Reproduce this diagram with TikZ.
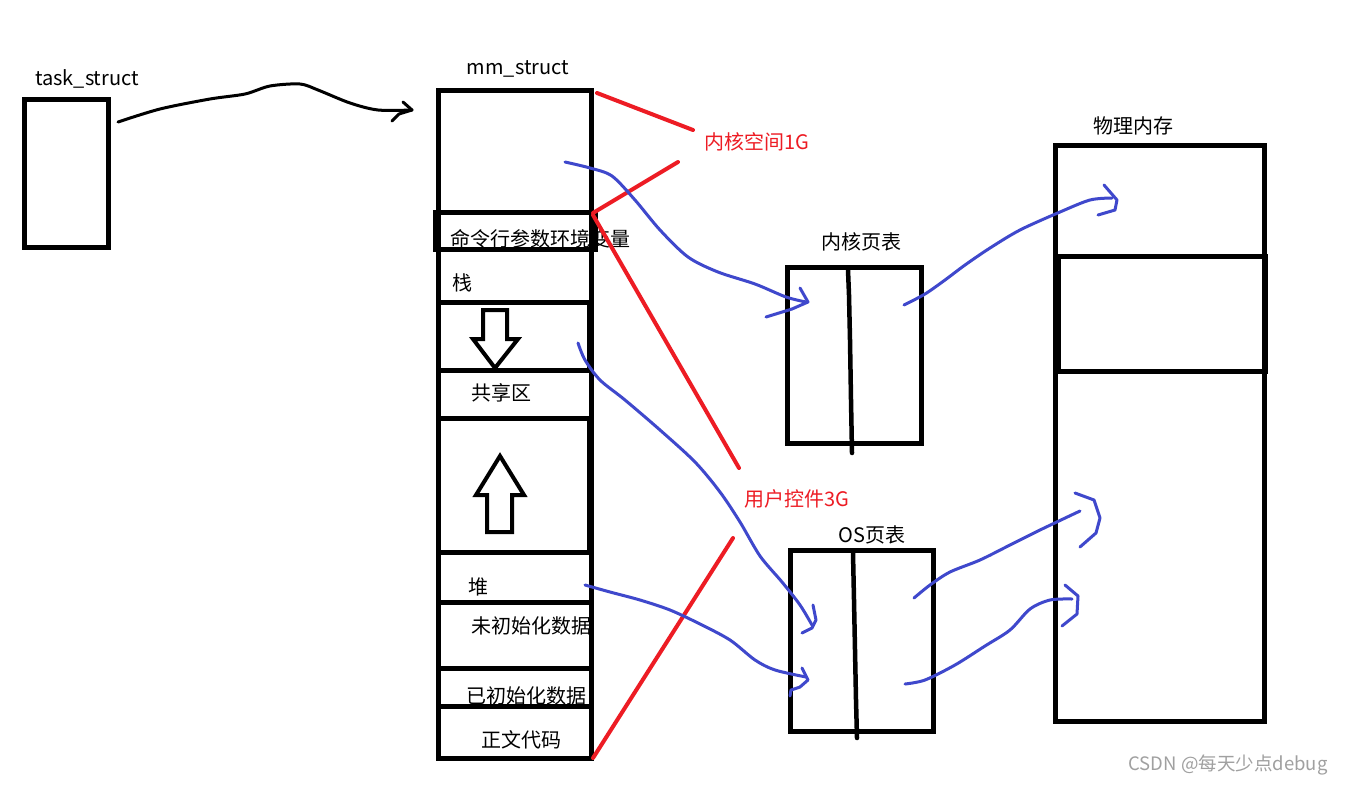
\documentclass[tikz,border=0pt]{standalone}
\usepackage{fontspec}
\setmainfont{Noto Sans CJK SC}
\definecolor{pred}{HTML}{ED1C24}
\definecolor{pblue}{HTML}{3F48CC}
\definecolor{wmgray}{HTML}{A0A0A0}
\begin{document}
\begin{tikzpicture}[x=1pt,y=-1pt,
  box/.style={draw,line width=5pt,inner sep=0pt,outer sep=0pt,rectangle,anchor=north west},
  lbl/.style={inner sep=0pt,font=\fontsize{20}{22}\selectfont},
  redlbl/.style={lbl,text=pred},
  redline/.style={draw=pred,line width=4pt,line cap=round},
  blueline/.style={draw=pblue,line width=3pt,line cap=round,line join=round},
  blackline/.style={draw=black,line width=3pt,line cap=round,line join=round},
  fatarrow/.style={draw=black,line width=4pt,line join=miter}]
\useasboundingbox (0,0) rectangle (1346,785);
\fill[white] (0,0) rectangle (1346,785);

% task_struct
\node[box,minimum width=84pt,minimum height=148pt] (task) at (24,99) {};
\node[lbl] (tasklbl) at (87,79) {task\_struct};

% mm_struct column labels (drawn first, box lines go over them)
\node[lbl] (mmlbl) at (518,69) {mm\_struct};
\node[lbl] (cmdlbl) at (540,239) {命令行参数环境变量};
\node[lbl] (stacklbl) at (462,283) {栈};
\node[lbl] (sharedlbl) at (501,393) {共享区};
\node[lbl] (heaplbl) at (478,587) {堆};
\node[lbl] (bsslbl) at (531,626) {未初始化数据};
\node[lbl] (datalbl) at (526,696) {已初始化数据};
\node[lbl] (codelbl) at (521,740) {正文代码};

% mm_struct column
\node[box,minimum width=153pt,minimum height=668pt] (mm) at (438,90) {};
\node[box,minimum width=160pt,minimum height=37pt] (cmd) at (435,212) {};
\node[box,minimum width=153pt,minimum height=53pt] (stack) at (438,249) {};
\node[box,minimum width=151pt,minimum height=68pt] (gap1) at (438,302) {};
\node[box,minimum width=153pt,minimum height=48pt] (shared) at (438,370) {};
\node[box,minimum width=151pt,minimum height=134pt] (gap2) at (438,418) {};
\node[box,minimum width=153pt,minimum height=50pt] (heap) at (438,552) {};
\node[box,minimum width=153pt,minimum height=66pt] (bss) at (438,602) {};
\node[box,minimum width=153pt,minimum height=38pt] (data) at (438,668) {};
\node[box,minimum width=153pt,minimum height=52pt] (code) at (438,706) {};

% fat arrows
\draw[fatarrow] (483,310) -- (507,310) -- (507,339) -- (518,339) -- (495,368) -- (473,339) -- (483,339) -- cycle;
\draw[fatarrow] (500,456) -- (524,495) -- (512,495) -- (512,532) -- (487,532) -- (487,495) -- (476,495) -- cycle;

% red labels and lines
\node[redlbl] (kspace) at (757,142) {内核空间1G};
\node[redlbl] (uspace) at (797,499) {用户控件3G};
\coordinate (r1a) at (597,93);  \coordinate (r1b) at (693,130);
\coordinate (r2a) at (593,213); \coordinate (r2b) at (678,162);
\coordinate (r3a) at (593,215); \coordinate (r3b) at (739,468);
\coordinate (r4a) at (733,538); \coordinate (r4b) at (593,758);
\draw[redline] (r1a) -- (r1b);
\draw[redline] (r2a) -- (r2b);
\draw[redline] (r3a) -- (r3b);
\draw[redline] (r4a) -- (r4b);

% kernel page table
\node[box,minimum width=134pt,minimum height=176pt] (kpt) at (787,267) {};
\node[lbl] (kptlbl) at (861,242) {内核页表};
\draw[blackline,line width=4.5pt] (848,270) -- (849,295) -- (850,340) -- (851,400) -- (852,453);

% OS page table
\node[box,minimum width=143pt,minimum height=181pt] (ospt) at (790,550) {};
\node[lbl] (osptlbl) at (872,535) {OS页表};
\draw[blackline,line width=4.5pt] (853,553) -- (854,600) -- (855,650) -- (856,700) -- (857,738);

% physical memory
\node[box,minimum width=209pt,minimum height=576pt] (phys) at (1055,145) {};
\node[box,minimum width=207pt,minimum height=115pt] (physk) at (1058,256) {};
\node[lbl] (physlbl) at (1133,126) {物理内存};

% task_struct -> mm_struct
\coordinate (t0) at (118,122);
\coordinate (t1) at (412,110);
\draw[blackline] plot[smooth,tension=0.5] coordinates {(t0) (160,109) (210,99) (245,94) (270,86) (300,84) (318,90) (350,103) (378,110) (t1)};
\draw[blackline] (392,121) -- (399,114) -- (t1) -- (403,102);

% blue mappings
\coordinate (b1s) at (565,162); \coordinate (b1e) at (806,302);
\draw[blueline] plot[smooth,tension=0.5] coordinates {(b1s) (590,168) (612,176) (635,200) (660,230) (688,257) (718,272) (755,284) (786,297) (b1e)};
\draw[blueline] (800,288) -- (808,302) -- (792,309) -- (766,317);

\coordinate (b2s) at (904,305); \coordinate (b2e) at (1112,198);
\draw[blueline] plot[smooth,tension=0.5] coordinates {(b2s) (925,294) (945,280) (965,265) (990,248) (1020,230) (1060,212) (1090,200) (b2e)};
\draw[blueline] (1104,185) -- (1117,200) -- (1115,210) -- (1098,215);

\coordinate (b3s) at (578,343); \coordinate (b3e) at (812,625);
\draw[blueline] plot[smooth,tension=0.5] coordinates {(b3s) (585,360) (600,380) (625,400) (660,430) (695,462) (720,492) (740,522) (760,556) (782,582) (800,605) (b3e)};
\draw[blueline] (813,605) -- (816,620) -- (812,628) -- (802,633);

\coordinate (b4s) at (585,585); \coordinate (b4e) at (806,677);
\draw[blueline] plot[smooth,tension=0.5] coordinates {(b4s) (610,592) (640,600) (670,610) (700,624) (730,640) (755,660) (775,670) (b4e)};
\draw[blueline] (802,668) -- (808,680) -- (800,687) -- (791,690) -- (790,696);

\coordinate (b5s) at (914,598); \coordinate (b5e) at (1080,511);
\draw[blueline] plot[smooth,tension=0.5] coordinates {(b5s) (930,585) (950,572) (980,560) (1010,545) (1040,530) (b5e)};
\draw[blueline] (1075,493) -- (1094,500) -- (1100,518) -- (1096,533) -- (1080,547);

\coordinate (b6s) at (905,684); \coordinate (b6e) at (1072,599);
\draw[blueline] plot[smooth,tension=0.5] coordinates {(b6s) (925,680) (955,665) (985,646) (1010,630) (1030,609) (1050,600) (b6e)};
\draw[blueline] (1065,585) -- (1078,596) -- (1077,614) -- (1062,626);

% watermark
\node[inner sep=0pt,text=wmgray,font=\fontsize{18.5}{20}\selectfont] (wm) at (1228,765) {CSDN @每天少点debug};
\end{tikzpicture}
\end{document}
